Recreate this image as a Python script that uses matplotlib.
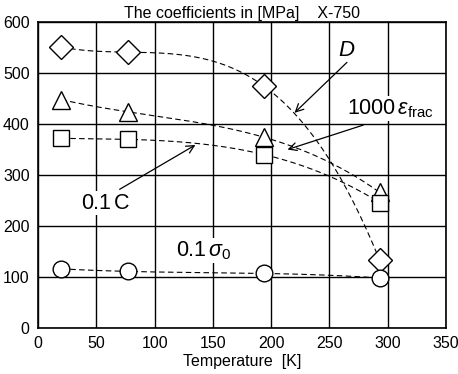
import numpy as np
import matplotlib.pyplot as plt

plt.rcParams['font.family'] = ['Liberation Sans', 'DejaVu Sans']
plt.rcParams['mathtext.fontset'] = 'custom'
plt.rcParams['mathtext.rm'] = 'Liberation Sans'
plt.rcParams['mathtext.it'] = 'Liberation Sans:italic'

# temperatures [K]
temp = [20, 77, 194, 293]
# coefficients [MPa]
d_vals = [551, 541, 474, 133]
eps_vals = [448, 424, 374, 266]
c_vals = [372, 370, 340, 246]
sigma_vals = [116, 111, 107, 98]

series = [
    (d_vals, 'D', 12),
    (eps_vals, '^', 13),
    (c_vals, 's', 12),
    (sigma_vals, 'o', 12),
]

fig = plt.figure(figsize=(4.58, 3.74), dpi=100)
ax = fig.add_axes([0.083, 0.123, 0.891, 0.818])

for vals, mk, ms in series:
    coef = np.polyfit(temp, vals, 3)
    xs = np.linspace(temp[0], temp[-1], 200)
    ax.plot(xs, np.polyval(coef, xs), color='black', lw=0.8, dashes=(5, 3), zorder=3)
    ax.plot(temp, vals, linestyle='none', marker=mk, ms=ms, mfc='white',
            mec='black', mew=1.0, zorder=4)

ax.set_xlim(0, 350)
ax.set_ylim(0, 600)
ax.set_xticks(range(0, 351, 50))
ax.set_yticks(range(0, 601, 100))
ax.grid(True, color='black', lw=1.0, zorder=1)
ax.set_axisbelow(True)
ax.tick_params(length=0, labelsize=11.5, pad=6)
for s in ax.spines.values():
    s.set_linewidth(1.2)
ax.set_xlabel('Temperature  [K]', fontsize=11.5, labelpad=2)
ax.set_title('The coefficients in [MPa]    X-750', fontsize=11.5, pad=3)

arrow = dict(arrowstyle='->', color='black', lw=0.9, mutation_scale=14, shrinkA=0, shrinkB=0)
box = dict(facecolor='white', edgecolor='none', pad=1)

ax.annotate('', xy=(220, 422), xytext=(265, 521), arrowprops=arrow, zorder=5)
ax.text(265, 545, '$\\it{D}$', fontsize=16, ha='center', va='center')

ax.annotate('', xy=(214, 350), xytext=(279, 398), arrowprops=arrow, zorder=5)
ax.text(265, 430, '1000$\\,\\it{\\varepsilon}_{\\mathrm{frac}}$', fontsize=15.5, ha='left',
        va='center', bbox=box, zorder=6, clip_on=False)

ax.annotate('', xy=(135, 359), xytext=(70, 272), arrowprops=arrow, zorder=5)
ax.text(58, 245, '0.1$\\,$C', fontsize=15.5, ha='center', va='center', bbox=box, zorder=6)

ax.text(142, 152, '0.1$\\,\\it{\\sigma}_0$', fontsize=15.5, ha='center', va='center', bbox=box, zorder=6)

fig.savefig('out.png', dpi=100)
